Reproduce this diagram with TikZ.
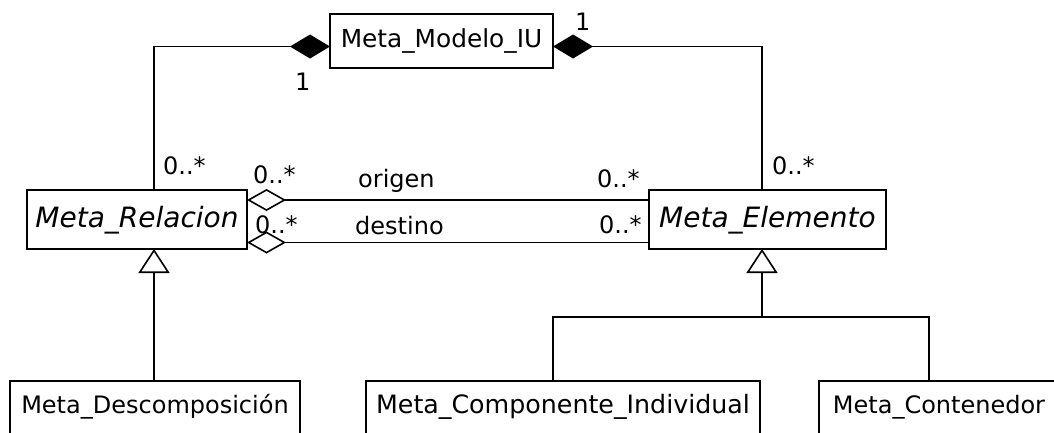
\documentclass[tikz,border=0pt]{standalone}
\usepackage{fontspec}
\setmainfont{DejaVu Sans}
\usetikzlibrary{arrows.meta}

\tikzset{
  uml/.style={line width=1.6pt},
  classbox/.style={draw, line width=1.6pt, inner xsep=0pt, inner ysep=0pt, outer sep=0pt,
    anchor=north west, align=center, font=\fontsize{24}{28}\selectfont},
  abstractbox/.style={classbox, font=\fontsize{28}{32}\selectfont\itshape},
  lbl/.style={anchor=base west, inner sep=0pt, font=\fontsize{24}{28}\selectfont},
  compo/.style={uml, -{Diamond[length=40pt,width=24pt]}},
  aggr/.style={uml, -{Diamond[open,length=39pt,width=22pt]}},
  gener/.style={uml, -{Triangle[open,length=24pt,width=31pt]}},
}

\begin{document}
\begin{tikzpicture}[x=1pt,y=-1pt]
\useasboundingbox (0,0) rectangle (1054,432);
\clip (0,0) rectangle (1054,432);

% classes
\node[classbox, minimum width=223pt, text height=33pt, text depth=21pt, font=\fontsize{24.8}{28}\selectfont] (mm) at (330,14) {Meta\_Modelo\_IU};
\node[abstractbox, minimum width=220pt, text height=37pt, text depth=22pt] (rel) at (27,190) {Meta\_Relacion};
\node[abstractbox, minimum width=237pt, text height=37pt, text depth=22pt] (ele) at (649,190) {Meta\_Elemento};
\node[classbox, minimum width=290pt, text height=32pt, text depth=70pt] (desc) at (10,381) {Meta\_Descomposición};
\node[classbox, minimum width=394pt, text height=32pt, text depth=70pt, font=\fontsize{25.3}{28}\selectfont] (comp) at (366,381) {Meta\_Componente\_Individual};
\node[classbox, minimum width=240pt, text height=32pt, text depth=70pt] (cont) at (819,381) {Meta\_Contenedor};

% composition with the model
\draw[compo] ([xshift=17pt]rel.north) |- ([yshift=-5.5pt]mm.west);
\draw[compo] ([xshift=-5.5pt]ele.north) |- ([yshift=-5.5pt]mm.east);

% aggregations between relations and elements
\draw[aggr] ([yshift=19.5pt]ele.west) -- ([yshift=19.5pt]rel.east);
\draw[aggr] ([yshift=-23pt]ele.west) -- ([yshift=-23pt]rel.east);

% generalizations
\draw[gener] ([xshift=-1pt]desc.north) -- ([xshift=17pt]rel.south);
\coordinate (fork) at (762,317);
\draw[uml] ([xshift=-10pt]comp.north) |- (fork) -| ([xshift=-10pt]cont.north);
\draw[gener] (fork) -- ([xshift=-5.5pt]ele.south);

% multiplicities and role names
\node[lbl] (oneL) at (295,90) {1};
\node[lbl] (oneR) at (575,30) {1};
\node[lbl] (mRel) at (163,174) {0..*};
\node[lbl] (mOrigL) at (253,183) {0..*};
\node[lbl] (mDestL) at (255,233) {0..*};
\node[lbl] (origen) at (358,187) {origen};
\node[lbl] (destino) at (355,234) {destino};
\node[lbl] (mOrigR) at (597,187) {0..*};
\node[lbl] (mDestR) at (599,233) {0..*};
\node[lbl] (mEle) at (772,174) {0..*};
\end{tikzpicture}
\end{document}
